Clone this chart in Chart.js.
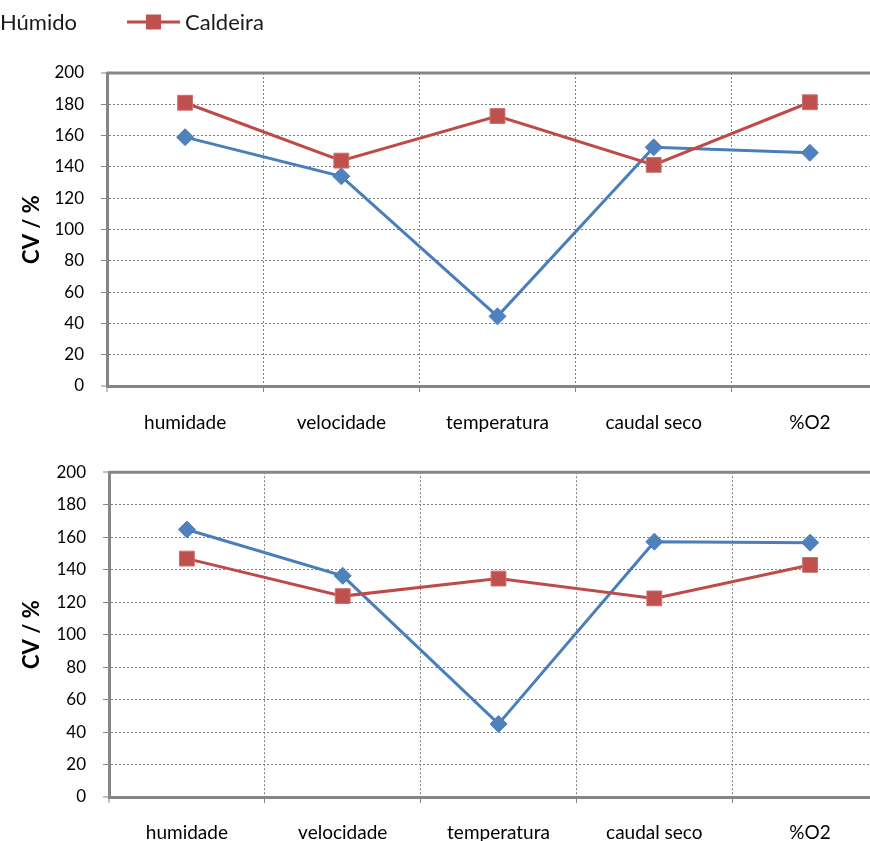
<!DOCTYPE html>
<html>
<head>
<meta charset="utf-8">
<script src="https://cdn.jsdelivr.net/npm/chart.js@4/dist/chart.umd.min.js"></script>
<style>
    html, body { margin: 0; padding: 0; background: #fff; width: 870px; height: 841px; overflow: hidden; }
    .wrap { position: absolute; left: 0; width: 870px; overflow: hidden; }
    #topWrap { top: 0; height: 445px; }
    #bottomWrap { top: 445px; height: 396px; }
</style>
</head>
<body>
<div class="wrap" id="topWrap"><canvas id="chartTop" width="900" height="445"></canvas></div>
<div class="wrap" id="bottomWrap"><canvas id="chartBottom" width="900" height="420"></canvas></div>

<script>
const categories = ['humidade', 'velocidade', 'temperatura', 'caudal seco', '%O2'];
const seriesNames = ['Húmido', 'Caldeira'];

// upper chart
const topHumido = [159, 134, 44.5, 152.5, 149];
const topCaldeira = [181, 144, 172.5, 141.3, 181.3];

// lower chart
const bottomHumido = [164.7, 136.2, 45, 157.2, 156.6];
const bottomCaldeira = [146.8, 123.7, 134.5, 122.3, 142.9];

const yTicks = { min: 0, max: 200, step: 20 };

const AXIS_GREY = '#868686';
const GRID_GREY = '#7f7f7f';
const BLUE = '#4A7EBB';
const RED = '#BE4B48';
const FONT = 'Lato';

// solid line along the top of the plot area
const frameTop = {
    id: 'frameTop',
    beforeDatasetsDraw(chart) {
        const { ctx, chartArea: a } = chart;
        ctx.save();
        ctx.strokeStyle = AXIS_GREY;
        ctx.lineWidth = 3;
        ctx.beginPath();
        ctx.moveTo(a.left, a.top);
        ctx.lineTo(a.right, a.top);
        ctx.stroke();
        ctx.restore();
    }
};

// excel-like legend: line segment with the marker in the middle, then the label
const lineLegend = {
    id: 'lineLegend',
    afterDraw(chart, args, opts) {
        if (!opts.display) return;
        const ctx = chart.ctx;
        const y = opts.y;
        let x = opts.x;
        ctx.save();
        ctx.font = '22px ' + FONT;
        ctx.textBaseline = 'middle';
        chart.data.datasets.forEach(ds => {
            ctx.strokeStyle = ds.borderColor;
            ctx.lineWidth = 3;
            ctx.beginPath();
            ctx.moveTo(x, y);
            ctx.lineTo(x + 53, y);
            ctx.stroke();

            const cx = x + 26.5;
            ctx.fillStyle = ds.backgroundColor;
            if (ds.pointStyle === 'rect') {
                ctx.fillRect(cx - 7.5, y - 7.5, 15, 15);
            } else {
                ctx.beginPath();
                ctx.moveTo(cx, y - 8);
                ctx.lineTo(cx + 8, y);
                ctx.lineTo(cx, y + 8);
                ctx.lineTo(cx - 8, y);
                ctx.closePath();
                ctx.fill();
            }

            ctx.fillStyle = '#1a1a1a';
            ctx.fillText(ds.label, x + 58, y + 1);
            x += 58 + ctx.measureText(ds.label).width + 50;
        });
        ctx.restore();
    }
};

function makeDatasets(humido, caldeira) {
    return [
        {
            label: seriesNames[0],
            data: humido,
            borderColor: BLUE,
            backgroundColor: '#4F81BD',
            borderWidth: 3,
            pointStyle: 'rectRot',
            pointRadius: 8.5,
            pointHoverRadius: 8.5,
            pointBorderWidth: 1,
            tension: 0,
            order: 2
        },
        {
            label: seriesNames[1],
            data: caldeira,
            borderColor: RED,
            backgroundColor: '#C0504D',
            borderWidth: 3,
            pointStyle: 'rect',
            pointRadius: 10.5,
            pointHoverRadius: 10.5,
            pointBorderWidth: 1,
            pointBorderColor: '#C9726F',
            tension: 0,
            order: 1
        }
    ];
}

function makeOptions(cfg) {
    return {
        responsive: false,
        animation: false,
        layout: { padding: { left: 0, right: 12, top: cfg.padTop, bottom: 0 } },
        plugins: {
            legend: { display: false },
            tooltip: { enabled: false },
            lineLegend: { display: cfg.legend, x: -58, y: 22 }
        },
        scales: {
            x: {
                offset: true,
                grid: {
                    offset: true,
                    color: GRID_GREY,
                    tickColor: AXIS_GREY,
                    tickLength: 6,
                    tickWidth: 1,
                    lineWidth: ctx => ctx.index === 0 ? 0 : 1
                },
                border: { color: AXIS_GREY, width: 3, dash: [2, 2] },
                ticks: {
                    color: '#000',
                    font: { family: FONT, size: 19 },
                    padding: cfg.xPad,
                    maxRotation: 0,
                    autoSkip: false
                },
                afterFit(scale) { scale.height = cfg.xHeight; }
            },
            y: {
                min: yTicks.min,
                max: yTicks.max,
                ticks: {
                    stepSize: yTicks.step,
                    color: '#000',
                    font: { family: FONT, size: 17 },
                    padding: 17
                },
                grid: {
                    color: GRID_GREY,
                    tickColor: AXIS_GREY,
                    tickLength: 6,
                    tickWidth: 1,
                    lineWidth: ctx => (ctx.tick && (ctx.tick.value === 0 || ctx.tick.value === 200)) ? 0 : 1
                },
                border: { color: AXIS_GREY, width: 3, dash: [2, 2] },
                title: {
                    display: true,
                    text: 'CV / %',
                    color: '#000',
                    font: { family: FONT, size: 22, weight: 'bold' },
                    padding: { top: 19, bottom: 0 }
                },
                afterFit(scale) { scale.width = cfg.yWidth; }
            }
        }
    };
}

new Chart(document.getElementById('chartTop'), {
    type: 'line',
    data: { labels: categories, datasets: makeDatasets(topHumido, topCaldeira) },
    options: makeOptions({ padTop: 73, xHeight: 59, yWidth: 107, xPad: 19, legend: true }),
    plugins: [frameTop, lineLegend]
});

new Chart(document.getElementById('chartBottom'), {
    type: 'line',
    data: { labels: categories, datasets: makeDatasets(bottomHumido, bottomCaldeira) },
    options: makeOptions({ padTop: 24, xHeight: 68, yWidth: 109, xPad: 18, legend: false }),
    plugins: [frameTop, lineLegend]
});
</script>
</body>
</html>
